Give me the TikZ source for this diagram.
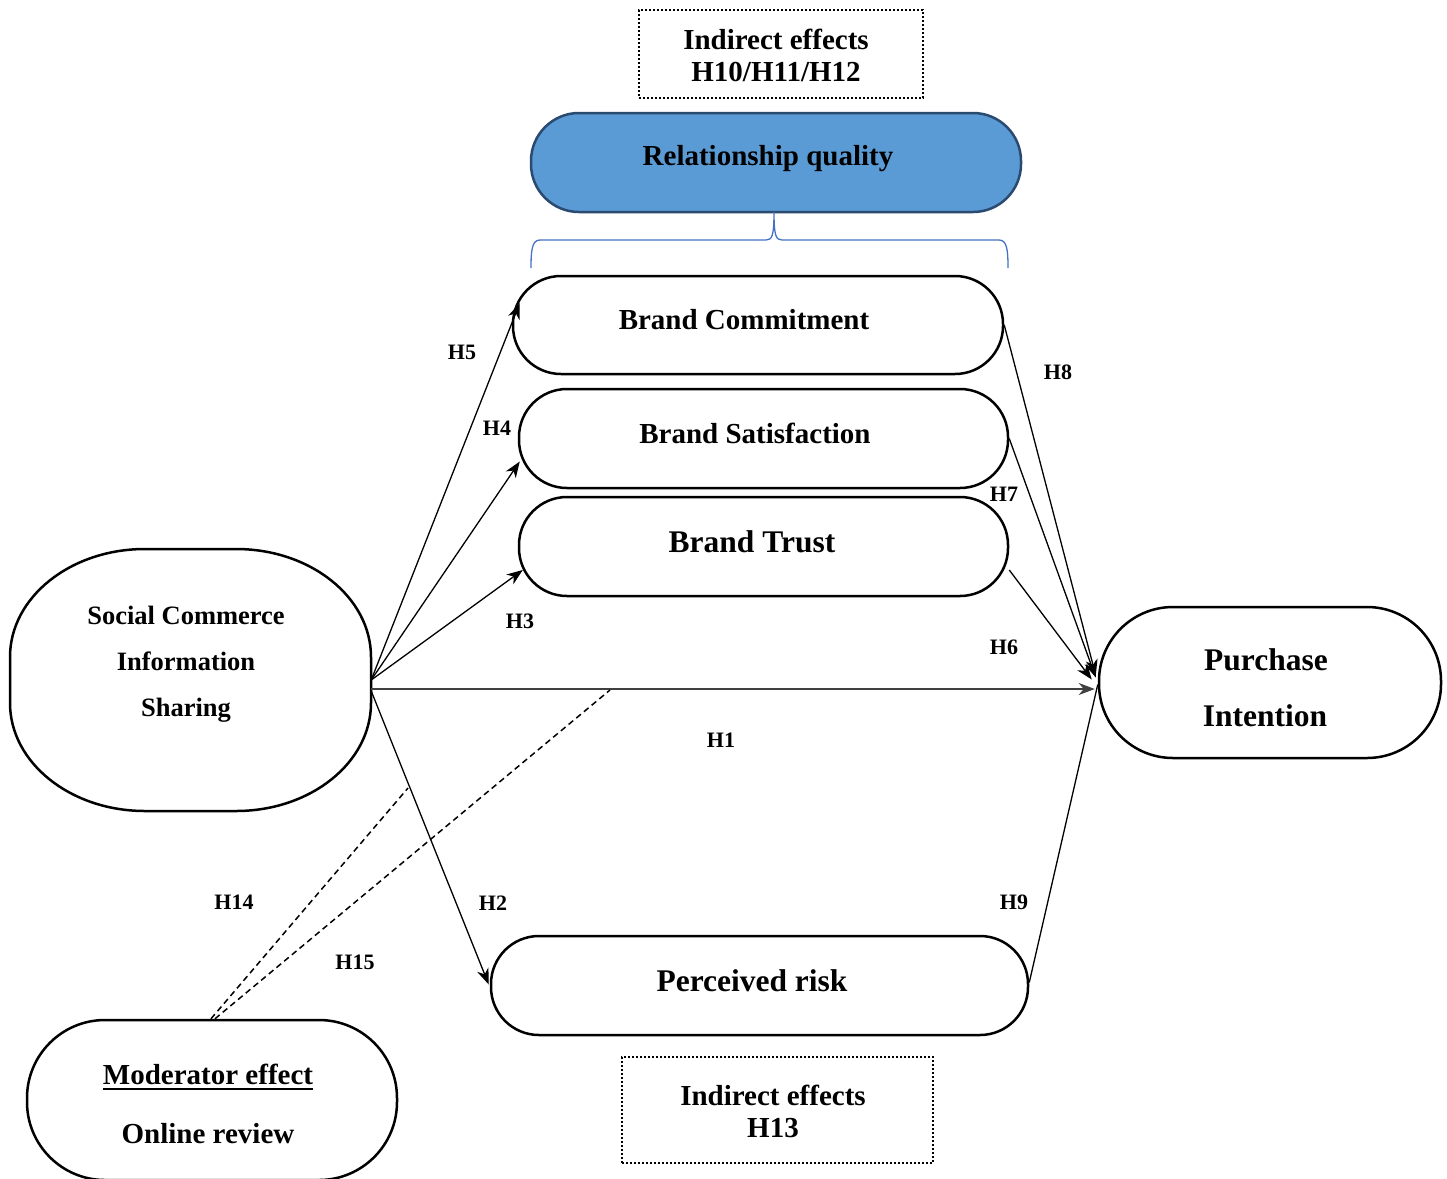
\documentclass[tikz,border=0pt]{standalone}
\usepackage{fontspec}
\setmainfont{Liberation Serif}
\usetikzlibrary{arrows.meta,calc}
\definecolor{rqfill}{HTML}{5B9BD5}
\definecolor{rqdraw}{HTML}{2A4A70}
\definecolor{bracecol}{HTML}{4472C4}
\definecolor{hgray}{HTML}{404040}
\begin{document}
\begin{tikzpicture}[x=1pt,y=-1pt,
  pill/.style={draw, line width=2.5pt, rounded corners=#1, inner sep=0pt},
  dotbox/.style={draw, line width=2pt, dash pattern=on 2pt off 2pt, inner sep=0pt},
  tbig/.style={font=\bfseries\fontsize{31.5}{37}\selectfont, inner sep=0pt},
  tmid/.style={font=\bfseries\fontsize{29}{34}\selectfont, inner sep=0pt, align=center},
  tsc/.style={font=\bfseries\fontsize{26.5}{46}\selectfont, inner sep=0pt, align=center},
  hlab/.style={font=\bfseries\fontsize{22}{26}\selectfont, inner sep=0pt},
  arr/.style={-{Stealth[length=16pt,width=12pt,inset=5pt]}, line width=1.3pt},
  plain/.style={line width=1.3pt},
  dashline/.style={line width=1.5pt, dash pattern=on 6pt off 4pt}
]
\useasboundingbox (0,0) rectangle (1447,1178);

% shapes
\node[dotbox, minimum width=284pt, minimum height=88pt] (ie1) at (781,54) {};
\node[pill=48, fill=rqfill, draw=rqdraw, minimum width=490pt, minimum height=99pt] (rq) at (776,162.5) {};
\node[pill=48, minimum width=490pt, minimum height=98pt] (bc) at (758,325) {};
\node[pill=48, minimum width=489pt, minimum height=99pt] (bs) at (763.5,438.5) {};
\node[pill=48, minimum width=489pt, minimum height=99pt] (bt) at (763.5,546.5) {};
\node[inner sep=0pt, minimum width=361pt, minimum height=262pt] (sc) at (190.5,680) {};
\draw[line width=2.5pt] (145,549) -- (236,549)
  arc[start angle=-90, end angle=0, x radius=135, y radius=108] -- (371,703)
  arc[start angle=0, end angle=90, x radius=135, y radius=108] -- (145,811)
  arc[start angle=90, end angle=180, x radius=135, y radius=108] -- (10,657)
  arc[start angle=180, end angle=270, x radius=135, y radius=108] -- cycle;
\node[pill=74, minimum width=342pt, minimum height=151pt] (pi) at (1270,682.5) {};
\node[pill=48, minimum width=537pt, minimum height=99pt] (pr) at (759.5,985.5) {};
\node[dotbox, minimum width=311pt, minimum height=106pt] (ie2) at (777.5,1110) {};
\node[pill=78, minimum width=370pt, minimum height=160pt] (mod) at (212,1100) {};

% texts
\node[tmid] (ie1a) at (776,39) {Indirect effects};
\node[tmid] (ie1b) at (776,72) {H10/H11/H12};
\node[tmid] (rqt) at (768,159) {Relationship quality};
\node[tmid] (bct) at (744,320) {Brand Commitment};
\node[tmid] (bst) at (755,433) {Brand Satisfaction};
\node[tbig] (btt) at (752,542) {Brand Trust};
\node[tsc] (sct) at (186,664) {Social Commerce\\Information\\Sharing};
\node[tbig] (pit1) at (1266,660) {Purchase};
\node[tbig] (pit2) at (1265,716) {Intention};
\node[tbig] (prt) at (752,981) {Perceived risk};
\node[tmid] (ie2a) at (773,1095) {Indirect effects};
\node[tmid] (ie2b) at (773,1128) {H13};
\node[tmid] (modt1) at (208,1074) {Moderator effect};
\node[tmid] (modt2) at (208,1134) {Online review};
\draw[line width=2pt] ($(modt1.base west)+(0,5)$) -- ($(modt1.base east)+(0,5)$);

% brace
\draw[bracecol, line width=1.3pt] (531,268) .. controls (531,250) and (532,240) .. (540,240)
  -- (766,240) .. controls (772,240) and (774,236) .. (774,212)
  .. controls (774,236) and (776,240) .. (782,240) -- (999,240)
  .. controls (1007,240) and (1008,250) .. (1008,268);

% connectors
\draw[arr] (sc.east) -- ($(bc.west)+(8,-22)$);
\draw[arr] (sc.east) -- ($(bs.west)+(2,23)$);
\draw[arr] (sc.east) -- ($(bt.west)+(5,23.5)$);
\draw[arr, draw=hgray, line width=1.8pt] ($(sc.east)+(0,9)$) -- ($(pi.west)+(-3,6.5)$);
\draw[arr] ($(sc.east)+(0,11)$) -- ($(pr.west)+(-1,-1)$);
\draw[arr] (bc.east) -- ($(pi.west)+(-2,-7)$);
\draw[arr] (bs.east) -- ($(pi.west)+(-2,-5)$);
\draw[arr] ($(bt.east)+(0,23.5)$) -- ($(pi.west)+(-6,-3)$);
\draw[plain] ($(pr.east)+(0,-3)$) -- ($(pi.west)+(0,2)$);

\coordinate (d1) at (408,788);
\coordinate (d2) at (610,690);
\draw[dashline] ($(mod.north)+(-1,0)$) -- (d1);
\draw[dashline] ($(mod.north)+(3,0)$) -- (d2);

% labels
\node[hlab] (h5) at (462,352) {H5};
\node[hlab] (h4) at (497,428) {H4};
\node[hlab] (h3) at (520,621) {H3};
\node[hlab] (h1) at (721,740) {H1};
\node[hlab] (h2) at (493,903) {H2};
\node[hlab] (h8) at (1058,372) {H8};
\node[hlab] (h7) at (1004,494) {H7};
\node[hlab] (h6) at (1004,647) {H6};
\node[hlab] (h9) at (1014,902) {H9};
\node[hlab] (h14) at (234,902) {H14};
\node[hlab] (h15) at (355,962) {H15};
\end{tikzpicture}
\end{document}
